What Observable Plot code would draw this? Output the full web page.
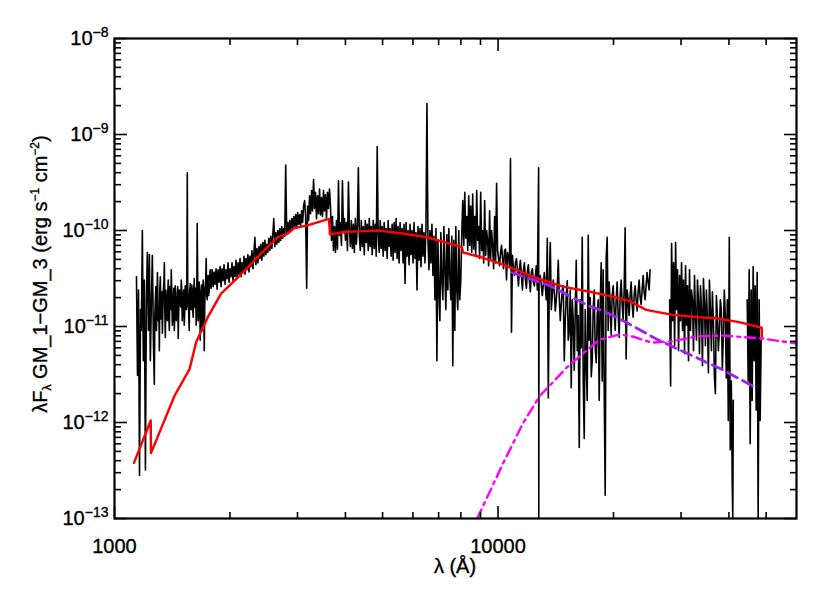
<!DOCTYPE html>
<html><head><meta charset="utf-8">
<script src="https://cdn.jsdelivr.net/npm/d3@7"></script>
<script src="https://cdn.jsdelivr.net/npm/@observablehq/plot@0.6"></script>
<style>body{margin:0;background:#fff} .lbl{stroke:black;stroke-width:0.35px}</style>
</head><body><div id="chart"></div>
<script>
const specUV = [[1141,3.3e-11],[1148,3.1e-12],[1155,2.4e-11],[1162,2.8e-13],[1169,1.5e-11],[1175,9.1e-12],[1182,1.0e-10],[1189,4.4e-12],[1196,3.05e-11],[1204,3.2e-13],[1211,1.9e-11],[1218,5.9e-11],[1226,9.1e-12],[1233,5.6e-11],[1240,4.4e-12],[1248,1.9e-11],[1255,5.5e-11],[1263,7.2e-12],[1270,2.5e-12],[1278,1.9e-11],[1286,9.1e-12],[1294,3.65e-11],[1301,1.15e-11],[1309,5.6e-12],[1317,3.3e-11],[1325,1.5e-11],[1333,8.5e-12],[1341,2.4e-11],[1349,4.6e-11],[1357,7.7e-12],[1365,1.9e-11],[1373,1.15e-11],[1381,3.05e-11],[1390,9.1e-12],[1398,2.1e-11],[1406,3.9e-11],[1415,1.03e-11],[1423,1.9e-11],[1432,9.1e-12],[1440,2.65e-11],[1449,1.15e-11],[1458,1.9e-11],[1466,7.5e-12],[1475,2.4e-11],[1484,1.9e-11],[1493,3.05e-11],[1502,1.15e-11],[1511,2.1e-11],[1520,1.03e-11],[1529,2.65e-11],[1538,1.5e-11],[1548,4.0e-10],[1557,1.9e-11],[1566,9.1e-12],[1576,2.8e-11],[1585,1.5e-11],[1595,2.4e-11],[1604,1.25e-11],[1614,3.15e-11],[1624,1.9e-11],[1633,1.03e-11],[1643,1.18e-10],[1653,1.15e-11],[1663,2.9e-11],[1673,7.2e-12],[1683,2.1e-11],[1693,9.1e-12],[1703,3.05e-11],[1714,5.6e-12],[1724,2.4e-11],[1734,5.1e-11],[1745,1.9e-11],[1755,3.4e-11],[1766,2.4e-11],[1776,3.9e-11]];
const specUVband = [[1259,2.2e-11],[1274,1.3e-11],[1282,2.6e-11],[1290,1.4e-11],[1297,2.2e-11],[1305,1.6e-11],[1313,2.5e-11],[1321,1.2e-11],[1329,2.3e-11],[1337,1.5e-11],[1345,2.8e-11],[1353,1.4e-11],[1361,2.4e-11],[1369,1.6e-11],[1377,2.2e-11],[1385,1.3e-11],[1394,2.6e-11],[1402,1.5e-11],[1410,2.3e-11],[1419,1.3e-11],[1427,2.5e-11],[1436,1.4e-11],[1444,2.2e-11],[1453,1.5e-11],[1462,2.6e-11],[1470,1.4e-11],[1479,2.3e-11],[1488,1.6e-11],[1497,2.5e-11],[1506,1.5e-11],[1515,2.4e-11],[1524,1.4e-11],[1533,2.2e-11],[1543,1.6e-11],[1552,2.6e-11],[1561,1.4e-11],[1571,2.4e-11],[1580,1.7e-11],[1590,2.7e-11],[1599,1.5e-11],[1609,2.3e-11],[1619,1.6e-11],[1628,2.5e-11],[1638,1.5e-11],[1648,2.8e-11],[1658,1.7e-11],[1668,2.4e-11],[1678,1.6e-11],[1688,2.7e-11],[1698,1.8e-11],[1708,2.5e-11],[1719,1.7e-11],[1729,3.0e-11],[1739,2.2e-11],[1750,3.2e-11],[1760,2.1e-11],[1771,3.3e-11],[1781,2.6e-11]];
const specNUV = [[1786,2.5e-11],[1797,3.9e-11],[1808,2.6e-11],[1818,3.7e-11],[1829,2.75e-11],[1840,4.0e-11],[1851,2.45e-11],[1862,3.9e-11],[1874,2.9e-11],[1885,4.2e-11],[1896,2.6e-11],[1907,4.0e-11],[1919,3.0e-11],[1930,4.4e-11],[1942,2.75e-11],[1954,3.9e-11],[1965,3.15e-11],[1977,4.6e-11],[1989,2.9e-11],[2001,4.0e-11],[2013,3.3e-11],[2025,4.6e-11],[2037,3.0e-11],[2050,4.2e-11],[2062,3.3e-11],[2074,4.9e-11],[2087,3.15e-11],[2100,4.6e-11],[2112,3.5e-11],[2125,5.1e-11],[2138,3.3e-11],[2150,4.6e-11],[2163,3.7e-11],[2176,5.4e-11],[2189,3.5e-11],[2202,5.1e-11],[2215,3.9e-11],[2228,5.6e-11],[2242,3.7e-11],[2255,5.4e-11],[2268,4.2e-11],[2282,6.2e-11],[2296,4.0e-11],[2310,5.9e-11],[2323,8.5e-11],[2337,4.4e-11],[2351,6.5e-11],[2365,4.6e-11],[2380,6.8e-11],[2394,5.1e-11],[2408,7.2e-11],[2422,4.9e-11],[2437,7.5e-11],[2452,5.4e-11],[2466,7.9e-11],[2481,5.6e-11],[2496,7.2e-11],[2511,5.9e-11],[2526,8.3e-11],[2541,6.2e-11],[2556,8.7e-11],[2572,6.5e-11],[2587,9.1e-11],[2602,1.33e-10],[2618,6.8e-11],[2634,9.5e-11],[2650,7.2e-11],[2666,1.0e-10],[2682,7.5e-11],[2698,1.05e-10],[2713,7.9e-11],[2730,1.1e-10],[2746,8.3e-11],[2762,1.05e-10],[2779,8.7e-11],[2795,4.8e-10],[2812,9.1e-11],[2829,1.21e-10],[2846,9.5e-11],[2863,1.27e-10],[2880,1.0e-10],[2898,1.33e-10],[2915,1.05e-10],[2933,1.4e-10],[2950,1.1e-10],[2968,1.47e-10],[2985,1.05e-10],[3003,1.54e-10],[3021,1.16e-10],[3039,1.47e-10],[3057,1.1e-10],[3076,1.6e-10],[3094,1.21e-10],[3112,1.8e-10]];
const specBalmer = [[3131,2.05e-10],[3150,1.4e-10],[3170,2.5e-11],[3188,1.8e-10],[3207,1.27e-10],[3226,2.3e-10],[3245,1.5e-10],[3265,2.6e-10],[3284,1.6e-10],[3304,3.4e-10],[3323,1.7e-10],[3343,2.5e-10],[3363,1.33e-10],[3383,2.3e-10],[3404,1.5e-10],[3424,2.7e-10],[3445,1.45e-10],[3465,2.2e-10],[3486,1.4e-10],[3507,2.6e-10],[3528,1.6e-10],[3549,2.35e-10],[3570,1.33e-10],[3592,2.5e-10],[3613,1.7e-10],[3635,2.7e-10],[3657,1.8e-10],[3679,7.9e-11],[3701,1.4e-10],[3723,6.2e-11],[3746,1.1e-10],[3768,5.9e-11],[3791,1.27e-10],[3814,6.4e-11],[3837,3.3e-10],[3860,8.9e-11],[3882,1.2e-10],[3906,7.0e-11],[3929,3.3e-10],[3953,9.5e-11],[3977,1.33e-10]];
const specOpt = [[4001,7.9e-11],[4025,1.21e-10],[4049,6.2e-11],[4073,3.2e-10],[4098,1.05e-10],[4121,6.8e-11],[4146,1.27e-10],[4171,6.5e-11],[4196,1.16e-10],[4221,5.9e-11],[4246,1.33e-10],[4272,7.2e-11],[4298,1.1e-10],[4323,4.5e-10],[4349,8.7e-11],[4374,6.2e-11],[4400,1.27e-10],[4427,6.8e-11],[4453,1.1e-10],[4480,5.6e-11],[4507,1.27e-10],[4534,7.5e-11],[4561,1.16e-10],[4588,6.2e-11],[4616,1.33e-10],[4643,6.8e-11],[4671,1.1e-10],[4699,5.6e-11],[4727,1.27e-10],[4756,6.5e-11],[4784,1.16e-10],[4813,5.4e-11],[4841,7.5e-10],[4870,8.7e-11],[4900,5.9e-11],[4929,1.27e-10],[4959,6.5e-11],[4988,1.1e-10],[5018,5.4e-11],[5048,1.21e-10],[5078,6.2e-11],[5108,1.05e-10],[5139,5.1e-11],[5170,1.27e-10],[5201,6.8e-11],[5232,1.05e-10],[5263,5.4e-11],[5295,1.16e-10],[5327,4.9e-11],[5359,1.21e-10],[5391,5.9e-11],[5423,1.33e-10],[5456,5.1e-11],[5488,1.1e-10],[5521,4.6e-11],[5554,1.21e-10],[5588,6.2e-11],[5621,1.05e-10],[5655,4.6e-11],[5688,1.16e-10],[5722,2.8e-11],[5757,1.21e-10],[5791,5.4e-11],[5826,1.0e-10],[5861,4.4e-11],[5896,1.16e-10],[5931,5.6e-11],[5967,1.0e-10],[6003,4.6e-11],[6039,1.21e-10],[6075,5.1e-11],[6111,9.5e-11],[6148,2.4e-11],[6185,1.1e-10],[6222,4.9e-11],[6259,1.05e-10],[6297,4.2e-11],[6334,1.16e-10],[6372,5.4e-11],[6410,9.5e-11],[6449,4.6e-11],[6487,1.1e-10],[6526,2.1e-9],[6566,7.9e-11],[6605,3.9e-11],[6644,1.0e-10],[6684,4.6e-11],[6724,1.16e-10],[6765,3.4e-11],[6805,8.7e-11],[6846,1.9e-11],[6887,1.05e-10],[6928,4.4e-12],[6970,7.9e-11],[7011,2.4e-11],[7052,1.15e-11],[7095,9.5e-11],[7138,3.0e-11],[7181,1.9e-11],[7224,1.1e-10],[7267,3.9e-11],[7310,1.5e-11],[7354,9.1e-11],[7398,2.4e-11],[7442,1.05e-10],[7486,3.4e-11],[7531,1.9e-11],[7576,8.7e-11],[7622,3.9e-12],[7668,7.9e-11],[7714,9.1e-12],[7760,1.1e-10],[7806,2.4e-11],[7853,1.5e-11],[7900,1.0e-10],[7947,1.9e-11],[7995,3.0e-11],[8043,8.9e-11]];
const specNIR1 = [[8091,2.05e-10],[8140,7.0e-11],[8189,2.5e-10],[8238,8.3e-11],[8288,1.4e-10],[8337,6.2e-11],[8387,2.3e-10],[8436,7.0e-11],[8486,1.8e-10],[8538,5.9e-11],[8589,2.4e-10],[8640,6.4e-11],[8693,1.4e-10],[8745,5.5e-11],[8797,2.6e-10],[8850,7.9e-11],[8903,1.1e-10],[8955,5.1e-11],[9011,2.5e-10],[9064,6.2e-11],[9119,1.0e-10],[9174,4.6e-11],[9228,2.05e-10],[9284,5.5e-11],[9339,1.0e-10],[9394,7.9e-11],[9450,4.3e-11],[9506,1.6e-10],[9563,4.9e-11],[9620,1.0e-10],[9678,7.0e-11],[9737,4.0e-11],[9795,1.4e-10],[9854,4.6e-11],[9913,3.1e-10],[9972,6.2e-11],[10031,5.1e-11],[10091,4.3e-11],[10150,5.9e-11],[10212,7.0e-11],[10273,5.1e-11],[10335,4.0e-11],[10397,6.2e-11],[10458,6.4e-11],[10520,3.05e-11],[10584,5.9e-11],[10647,5.4e-11],[10711,4.2e-11],[10775,5.6e-10],[10840,8.7e-12],[10905,5.5e-11],[10970,4.0e-11],[11036,3.4e-11],[11102,4.6e-11],[11168,5.1e-11],[11235,3.9e-11],[11302,2.65e-11],[11371,4.0e-11],[11437,4.9e-11],[11506,3.4e-11],[11575,2.4e-11],[11644,3.9e-11],[11714,4.6e-11],[11784,3.15e-11],[11855,2.5e-11],[11926,3.7e-11],[11997,4.4e-11],[12070,3.0e-11],[12142,2.3e-11],[12215,3.7e-11],[12288,4.0e-11],[12361,2.9e-11],[12435,2.65e-11],[12510,3.4e-11],[12585,4.3e-11],[12661,2.4e-11],[12760,4.5e-10],[12770,1.0e-13],[12790,2.9e-11],[12890,3.4e-11],[13045,2.1e-11],[13202,3.65e-11],[13361,1.9e-11],[13441,8.3e-11],[13522,1.8e-12],[13603,3.05e-11],[13685,7.5e-11],[13767,1.5e-11],[13850,2.1e-11],[13933,3.05e-11],[14017,2.4e-11],[14101,1.45e-11],[14186,1.9e-11],[14271,2.65e-11],[14357,4.9e-11],[14443,2.0e-11],[14530,1.15e-11],[14617,1.7e-11],[14705,2.4e-11],[14793,2.65e-11],[14882,4.4e-12],[14972,1.15e-11],[15062,2.1e-11],[15152,3.0e-11],[15243,7.2e-12],[15335,9.1e-12],[15427,2.4e-11],[15519,2.3e-12],[15613,1.9e-11],[15707,1.15e-11],[15801,3.5e-12],[15900,1.5e-11],[15991,4.9e-11],[16087,5.6e-12],[16180,1.3e-11],[16281,5.5e-13],[16379,1.9e-11],[16480,6.0e-12],[16577,8.5e-11],[16676,2.7e-12],[16777,6.8e-13],[16877,1.5e-11],[16980,4.0e-12],[17081,1.7e-12],[17184,8.9e-11],[17287,7.2e-12],[17391,2.0e-11],[17500,3.0e-12],[17601,4.4e-12],[17710,1.6e-11],[17813,2.4e-11],[17920,6.0e-12],[18028,4.2e-12],[18140,1.3e-11],[18245,1.9e-11],[18355,1.7e-12],[18465,1.7e-11],[18576,4.6e-11],[18688,2.7e-12],[18800,3.9e-11],[18913,2.3e-12],[19027,1.75e-13],[19141,5.2e-11],[19256,8.5e-11],[19372,9.1e-12],[19489,2.9e-11],[19580,1.9e-11],[19724,8.1e-12],[19840,2.1e-11],[19962,2.65e-11],[20080,1.5e-11],[20202,9.1e-12],[20320,1.9e-11],[20446,2.9e-11],[20570,1.3e-11],[20692,7.7e-12],[20815,2.1e-11],[20941,3.05e-11],[21070,1.7e-11],[21194,1.15e-11],[21320,2.4e-11],[21449,1.07e-10],[21578,4.6e-12],[21708,2.4e-11],[21840,1.9e-11],[21970,1.3e-11],[22100,2.1e-11],[22235,2.9e-11],[22370,1.7e-11],[22503,1.25e-11],[22640,2.1e-11],[22774,2.65e-11],[22910,1.9e-11],[23048,1.45e-11],[23190,2.3e-11],[23326,3.05e-11],[23470,2.0e-11],[23607,1.7e-11],[23750,2.4e-11],[23891,3.4e-11],[24030,2.3e-11],[24179,1.9e-11],[24320,2.65e-11],[24470,3.65e-11],[24620,2.9e-11],[24765,2.4e-11],[24914,3.9e-11]];
const specNIR2 = [[28012,1.9e-11],[28180,2.4e-12],[28350,7.3e-11],[28520,1.15e-11],[28690,4.6e-11],[28862,6.3e-12],[29035,7.5e-11],[29209,1.5e-11],[29384,3.9e-11],[29560,5.6e-12],[29737,3.4e-11],[29915,1.15e-11],[30094,4.6e-11],[30274,9.1e-12],[30456,3.05e-11],[30638,5.2e-12],[30821,4.3e-11],[31006,1.03e-11],[31192,2.65e-11],[31378,4.4e-12],[31566,3.9e-11],[31755,9.1e-12],[31945,2.4e-11],[32137,1.9e-11],[32330,5.6e-12],[32524,3.4e-11],[32718,1.3e-11],[32914,7.2e-12],[33111,3.05e-11],[33306,1.9e-11],[33509,5.2e-12],[33709,2.65e-11],[33911,1.5e-11],[34114,3.9e-12],[34318,3.15e-11],[34523,1.7e-11],[34730,6.3e-12],[34938,2.4e-11],[35147,1.15e-11],[35358,3.3e-12],[35570,3.05e-11],[35780,1.5e-11],[35997,5.6e-12],[36213,2.3e-11],[36430,1.15e-11],[36648,3.1e-12],[36867,2.0e-12],[37088,2.1e-11],[37310,1.3e-11],[37533,5.6e-12],[37760,9.1e-12],[37983,1.9e-11],[38210,1.5e-11],[38439,3.5e-12],[38670,8.1e-12],[38900,2.4e-11],[39130,1.3e-11],[39367,2.9e-12],[39603,1.9e-11],[39840,1.05e-12],[40080,8.5e-11],[40320,5.2e-13],[40562,2.7e-12],[40805,2.2e-13],[40930,1.0e-13],[41050,1.7e-12]];
const specNIR3 = [[44624,1.9e-11],[44893,2.7e-12],[45163,3.9e-11],[45434,6.0e-13],[45707,2.4e-11],[45981,1.7e-12],[46257,4.2e-11],[46535,4.4e-12],[46814,2.65e-11],[47095,1.35e-12],[47378,3.65e-11],[47662,1.0e-13],[47948,1.9e-11],[48236,1.05e-12],[48525,7.2e-12]];

// Total model (red)
const modelLam  = [1124,1243,1245,1434,1569,1633,1751,1896,2138,2409,2662,2830,2940,3185,3624,3646,4006,4381,4841,5566,6529,8049,8110,8979,10323,12603,14778,17338,19930,22027,24335,28530,33473,36983,42520,48700,48750];
const modelFlux = [3.8e-13,1.05e-12,4.8e-13,1.9e-12,3.6e-12,6.9e-12,1.25e-11,2.2e-11,3.5e-11,5.75e-11,8.5e-11,9.3e-11,1.06e-10,1.13e-10,1.32e-10,9.1e-11,9.7e-11,9.8e-11,1.0e-10,9.4e-11,8.5e-11,6.7e-11,5.9e-11,5.3e-11,4.4e-11,3.2e-11,2.6e-11,2.3e-11,2.05e-11,1.84e-11,1.49e-11,1.32e-11,1.25e-11,1.22e-11,1.11e-11,9.7e-12,7.45e-12];
// Stellar component (purple dashed)
const starLam  = [10875,13646,14750,17338,18408,19930,21640,26040,32880,38410,47340];
const starFlux = [3.65e-11,2.67e-11,2.26e-11,1.62e-11,1.5e-11,1.3e-11,1.1e-11,7.3e-12,4.75e-12,3.56e-12,2.26e-12];
// Dust component (magenta dash-dot)
const dustLam  = [8822,10304,11612,12853,13646,15110,17338,18408,20750,22420,25120,28310,32880,38410,48780,60000];
const dustFlux = [1.0e-13,3.74e-13,9.8e-13,1.9e-12,2.43e-12,3.74e-12,6.0e-12,7.3e-12,8.26e-12,7.87e-12,6.8e-12,6.98e-12,7.87e-12,8.06e-12,7.5e-12,6.65e-12];

// Axis ticks
const xLabelTicks = [1000, 10000];
const xMajorTicks = [1000, 10000];
const xMinorTicks = [2000,3000,4000,5000,6000,7000,8000,9000,20000,30000,40000,50000];
const yMajorTicks = [1e-13,1e-12,1e-11,1e-10,1e-9,1e-8];
const yMinorTicks = [];
[-13,-12,-11,-10,-9].forEach(e => { for (let m = 2; m <= 9; m++) yMinorTicks.push(m * Math.pow(10, e)); });

const spec = [...specUV, ...specUVband, ...specNUV, ...specBalmer, ...specOpt, ...specNIR1, ...specNIR2, ...specNIR3]
  .map(([lam, flux]) => ({lam, flux}))
  .sort((a, b) => a.lam - b.lam);
let seg = 0;
spec.forEach((d, i) => { if (i > 0 && d.lam / spec[i - 1].lam > 1.04) seg++; d.seg = seg; });
const model = modelLam.map((lam, i) => ({lam, flux: modelFlux[i]}));
const star = starLam.map((lam, i) => ({lam, flux: starFlux[i]}));
const dust = dustLam.map((lam, i) => ({lam, flux: dustFlux[i]}));

const FONT = "'Liberation Sans', Arial, Helvetica, sans-serif";
const blank = () => "";
const tk = {label: null, tickFormat: blank, strokeWidth: 1.6};

const plot = Plot.plot({
  width: 830, height: 593,
  marginLeft: 114, marginRight: 34, marginTop: 38, marginBottom: 75,
  style: {fontFamily: FONT, background: "white", color: "black", overflow: "visible"},
  x: {type: "log", domain: [1000, 60000], label: null},
  y: {type: "log", domain: [1e-13, 1e-8], label: null},
  marks: [
    Plot.line(spec, {x: "lam", y: "flux", z: "seg", stroke: "black", strokeWidth: 1.6, clip: true}),
    Plot.line(model, {x: "lam", y: "flux", stroke: "#ff0000", strokeWidth: 2.4, clip: true}),
    Plot.line(star, {x: "lam", y: "flux", stroke: "#a020f0", strokeWidth: 2.8, strokeDasharray: "11,6", clip: true}),
    Plot.line(dust, {x: "lam", y: "flux", stroke: "#ff00ff", strokeWidth: 2.4, strokeDasharray: "10,5,3,5", clip: true}),
    Plot.axisX({...tk, anchor: "bottom", ticks: xMajorTicks, tickSize: -12}),
    Plot.axisX({...tk, anchor: "bottom", ticks: xMinorTicks, tickSize: -6}),
    Plot.axisX({...tk, anchor: "top", ticks: xMajorTicks, tickSize: -12}),
    Plot.axisX({...tk, anchor: "top", ticks: xMinorTicks, tickSize: -6}),
    Plot.axisY({...tk, anchor: "left", ticks: yMajorTicks, tickSize: -13}),
    Plot.axisY({...tk, anchor: "left", ticks: yMinorTicks, tickSize: -7}),
    Plot.axisY({...tk, anchor: "right", ticks: yMajorTicks, tickSize: -13}),
    Plot.axisY({...tk, anchor: "right", ticks: yMinorTicks, tickSize: -7}),
    Plot.axisX({anchor: "bottom", ticks: xLabelTicks, tickSize: 0, tickPadding: 20, fontSize: 20, tickFormat: d => String(d), label: null, className: "lbl"}),
    Plot.axisY({anchor: "left", ticks: yMajorTicks, tickSize: 0, tickPadding: 6, fontSize: 20, tickFormat: d => "10^" + Math.round(Math.log10(d)), label: null, className: "lbl"}),
    Plot.frame({stroke: "black", strokeWidth: 2.2})
  ]
});

document.getElementById("chart").appendChild(plot);

// Superscript exponents on y tick labels
plot.querySelectorAll("text").forEach(t => {
  const m = /^10\^(-?\d+)$/.exec(t.textContent.trim());
  if (!m) return;
  t.textContent = "10";
  t.setAttribute("class", "lbl");
  const ts = document.createElementNS("http://www.w3.org/2000/svg", "tspan");
  ts.setAttribute("font-size", "14");
  ts.setAttribute("dy", "-8");
  ts.textContent = m[1].replace("-", "\u2212");
  t.appendChild(ts);
});
plot.querySelectorAll("text").forEach(t => { if (/^\d+$/.test(t.textContent.trim())) t.setAttribute("class", "lbl"); });

const svg = d3.select(plot);
const yt = svg.append("text").attr("class", "lbl")
  .attr("transform", "translate(47,274) rotate(-90)")
  .attr("text-anchor", "middle").attr("font-size", 20).attr("font-family", FONT).attr("fill", "black");
yt.append("tspan").text("\u03bbF");
yt.append("tspan").attr("font-size", 12).attr("dy", 4).text("\u03bb");
yt.append("tspan").attr("dy", -4).text(" GM_1\u2212GM_3 (erg s");
yt.append("tspan").attr("font-size", 12).attr("dy", -8).text("\u22121");
yt.append("tspan").attr("dy", 8).text(" cm");
yt.append("tspan").attr("font-size", 12).attr("dy", -8).text("\u22122");
yt.append("tspan").attr("dy", 8).text(")");

svg.append("text").attr("class", "lbl")
  .attr("x", 455).attr("y", 573)
  .attr("text-anchor", "middle").attr("font-size", 20).attr("font-family", FONT).attr("fill", "black")
  .text("\u03bb (\u00c5)");
</script>
</body></html>
